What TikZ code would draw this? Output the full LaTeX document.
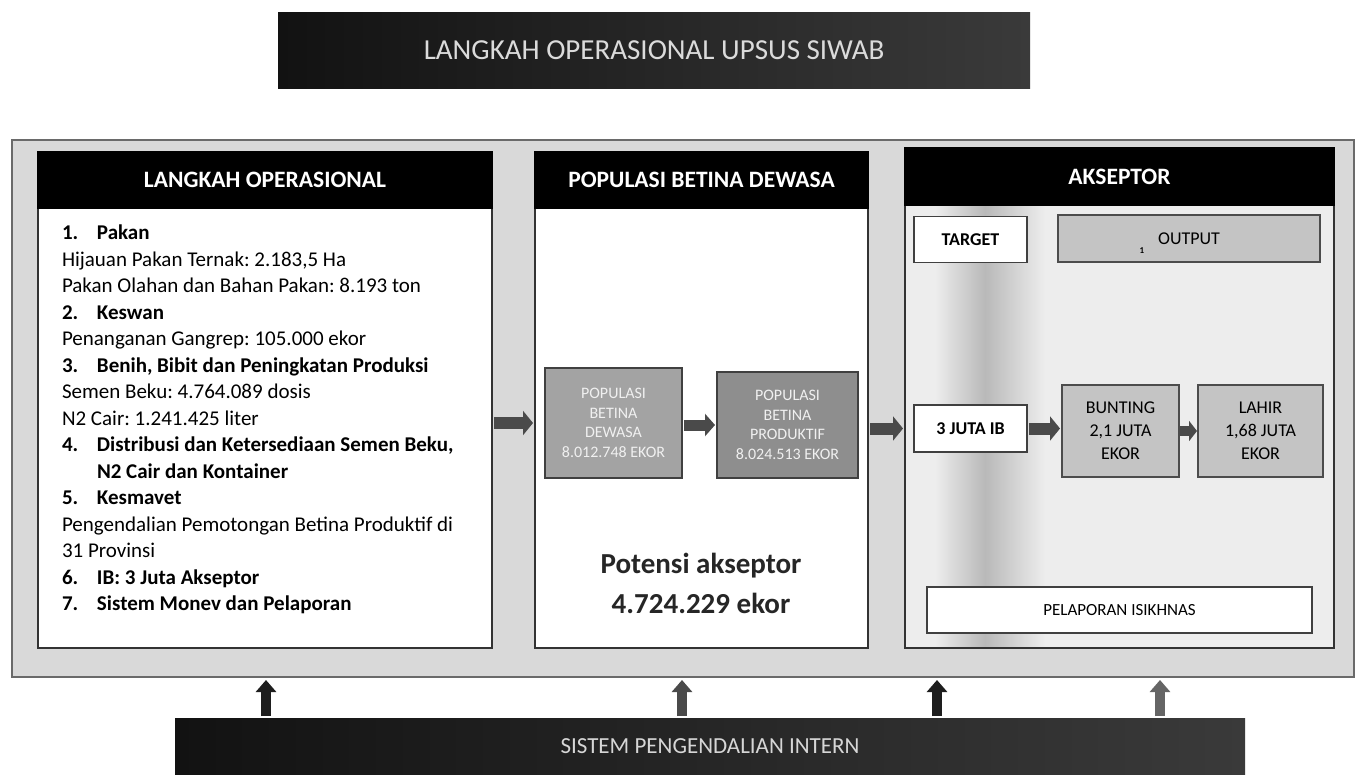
\documentclass[tikz,border=0pt]{standalone}
\usepackage{fontspec}
\setmainfont{Carlito}
\usetikzlibrary{arrows.meta,calc}
\frenchspacing
\definecolor{framefill}{HTML}{D9D9D9}
\definecolor{framedraw}{HTML}{6A6A6A}
\definecolor{barblack}{HTML}{121212}
\definecolor{barmid}{HTML}{3A3A3A}
\definecolor{boxgray}{HTML}{A3A3A3}
\definecolor{boxgraydark}{HTML}{8E8E8E}
\definecolor{lightbox}{HTML}{C4C4C4}
\definecolor{p3fill}{HTML}{EDEDED}
\definecolor{arrowgray}{HTML}{4A4A4A}
\definecolor{arrowdark}{HTML}{1E1E1E}
\newcommand{\numitem}[2]{\makebox[35pt][l]{\textbf{#1}}\textbf{#2}}
\tikzset{
  titlebar/.style={rectangle, left color=barblack, right color=barmid, draw=none,
    text=gray!28, font=\fontsize{29}{32}\selectfont},
  outerframe/.style={rectangle, fill=framefill, draw=framedraw, line width=1.2pt},
  panel/.style={rectangle, draw=black!80, line width=1.4pt},
  panelhead/.style={rectangle, fill=black, draw=black, line width=1.4pt, text=white,
    font=\bfseries\fontsize{23.5}{28}\selectfont},
  graybox/.style={rectangle, fill=boxgray, draw=black!75, line width=1.2pt,
    align=center, text=gray!12, font=\fontsize{16}{19.5}\selectfont},
  whitebox/.style={rectangle, fill=white, draw=black!75, line width=1.2pt,
    align=center, font=\bfseries\fontsize{18}{23}\selectfont},
  lbox/.style={rectangle, fill=lightbox, draw=black!70, line width=1.2pt,
    align=center, font=\fontsize{18}{23}\selectfont},
  harrow/.style={line width=12pt, draw=arrowgray, shorten <=2pt, shorten >=2pt,
    -{Triangle[width=24pt,length=10pt]}},
  uparrow/.style={line width=10pt, draw=arrowdark, shorten <=2pt, shorten >=3pt,
    -{Triangle[width=20pt,length=12pt]}}
}
\begin{document}
\begin{tikzpicture}[x=1pt,y=-1pt, every node/.style={inner sep=0pt, outer sep=0pt}]
\useasboundingbox[fill=white] (0,0) rectangle (1364,774);

% top title bar
\node[titlebar, minimum width=752pt, minimum height=76pt] (title) at (654,50) {LANGKAH OPERASIONAL UPSUS SIWAB};

% outer frame
\node[outerframe, minimum width=1342pt, minimum height=537pt] (frame) at (683,408.5) {};

% panel 1
\node[panel, fill=white, minimum width=454pt, minimum height=496pt] (p1) at (265,400) {};
\node[panelhead, minimum width=454pt, minimum height=56pt, anchor=north] (h1) at (p1.north) {LANGKAH OPERASIONAL};
\node[anchor=north west, align=left, font=\fontsize{21}{26.5}\selectfont] (list) at (62,225) {%
\numitem{1.}{Pakan}\\
Hijauan Pakan Ternak: 2.183,5 Ha\\
Pakan Olahan dan Bahan Pakan: 8.193 ton\\
\numitem{2.}{Keswan}\\
Penanganan Gangrep: 105.000 ekor\\
\numitem{3.}{Benih, Bibit dan Peningkatan Produksi}\\
Semen Beku: 4.764.089 dosis\\
N2 Cair: 1.241.425 liter\\
\numitem{4.}{Distribusi dan Ketersediaan Semen Beku,}\\
\hspace*{35pt}\textbf{N2 Cair dan Kontainer}\\
\numitem{5.}{Kesmavet}\\
Pengendalian Pemotongan Betina Produktif di\\
31 Provinsi\\
\numitem{6.}{IB: 3 Juta Akseptor}\\
\numitem{7.}{Sistem Monev dan Pelaporan}};

% panel 2
\node[panel, fill=white, minimum width=333pt, minimum height=496pt] (p2) at (701.5,400) {};
\node[panelhead, minimum width=333pt, minimum height=56pt, anchor=north] (h2) at (p2.north) {POPULASI BETINA DEWASA};
\node[graybox, minimum width=137pt, minimum height=110pt] (bA) at (613.5,423) {POPULASI\\BETINA\\DEWASA\\8.012.748 EKOR};
\node[graybox, fill=boxgraydark, minimum width=141pt, minimum height=106pt] (bB) at (787.5,425) {POPULASI\\BETINA\\PRODUKTIF\\8.024.513 EKOR};
\node[align=center, font=\bfseries\fontsize{29}{40}\selectfont, text=black!85] (pot) at (701,583) {Potensi akseptor\\4.724.229 ekor};

% panel 3
\node[panel, fill=p3fill, minimum width=429pt, minimum height=500pt] (p3) at (1119.5,398) {};
\shade[left color=p3fill, right color=gray!55] (935,206) rectangle (985,646.5);
\shade[left color=gray!55, right color=p3fill] (985,206) rectangle (1045,646.5);
\draw[draw=black!80, line width=1.4pt] (p3.south west) -- (p3.south east);
\node[panelhead, minimum width=429pt, minimum height=57pt, anchor=north] (h3) at (p3.north) {AKSEPTOR};
\node[whitebox, minimum width=113pt, minimum height=46pt] (target) at (970.5,239.5) {TARGET};
\node[lbox, minimum width=262pt, minimum height=47pt] (output) at (1189,238.5) {OUTPUT};
\node[font=\bfseries\fontsize{9}{10}\selectfont] (one) at (1142,251) {1};
\node[whitebox, minimum width=113pt, minimum height=47pt] (ib) at (970.5,428.5) {3 JUTA IB};
\node[lbox, minimum width=117pt, minimum height=92pt] (bunting) at (1120.5,431) {BUNTING\\2,1 JUTA\\EKOR};
\node[lbox, minimum width=125pt, minimum height=92pt] (lahir) at (1260.5,431) {LAHIR\\1,68 JUTA\\EKOR};
\node[whitebox, minimum width=385pt, minimum height=46pt, font=\fontsize{17}{20}\selectfont] (lapor) at (1119.5,610) {PELAPORAN ISIKHNAS};

% horizontal block arrows
\draw[harrow] (p1.east |- bA.center) -- (p2.west |- bA.center);
\draw[harrow, line width=11pt, -{Triangle[width=22pt,length=10pt]}] (bA.east |- bB.center) -- (bB.west);
\draw[harrow] (p2.east |- ib.center) -- (p3.west |- ib.center);
\draw[harrow] (ib.east) -- (bunting.west |- ib.center);
\draw[harrow, line width=10pt, -{Triangle[width=20pt,length=8pt]}, shorten <=1pt, shorten >=1pt] (bunting.east) -- (lahir.west);

% bottom bar
\node[titlebar, minimum width=1070pt, minimum height=56pt, font=\fontsize{23}{26}\selectfont, text=gray!32] (sys) at (710,746) {SISTEM PENGENDALIAN INTERN};

% up arrows
\coordinate (u1) at (266,700);
\coordinate (u2) at (682,700);
\coordinate (u3) at (937,700);
\coordinate (u4) at (1160,700);
\draw[uparrow] (sys.north -| u1) -- (frame.south -| u1);
\draw[uparrow, draw=arrowgray] (sys.north -| u2) -- (frame.south -| u2);
\draw[uparrow] (sys.north -| u3) -- (frame.south -| u3);
\draw[uparrow, draw=arrowgray!85] (sys.north -| u4) -- (frame.south -| u4);
\end{tikzpicture}
\end{document}
